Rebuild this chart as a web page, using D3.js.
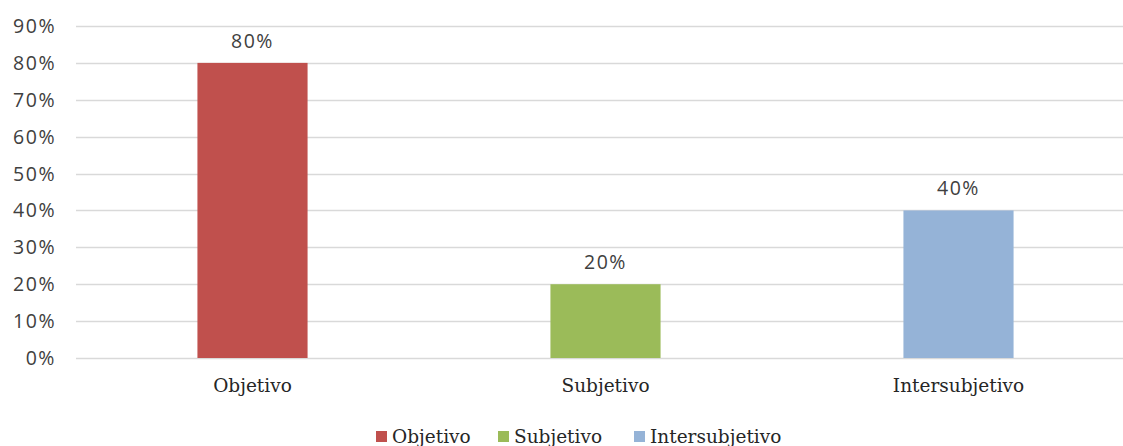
<!DOCTYPE html>
<html>
<head>
<meta charset="utf-8">
<script src="https://d3js.org/d3.v7.min.js"></script>
<style>
    body { margin: 0; background: #ffffff; }
    .tick-label { font-family: "Open Sans", sans-serif; font-size: 19.5px; letter-spacing: 1.5px; fill: #404040; }
    .value-label { font-family: "Open Sans", sans-serif; font-size: 19.5px; letter-spacing: 1.5px; fill: #404040; }
    .cat-label { font-family: "DejaVu Serif", serif; font-size: 18.5px; fill: #262626; }
    .legend-label { font-family: "DejaVu Serif", serif; font-size: 18.5px; fill: #262626; }
</style>
</head>
<body>
<svg id="chart" width="1123" height="446"></svg>
<script>
// Data
var categories = ["Objetivo", "Subjetivo", "Intersubjetivo"];
var values = [0.8, 0.2, 0.4];
var colors = ["#C0504D", "#9BBB59", "#95B3D7"];
var yTicks = [0, 0.1, 0.2, 0.3, 0.4, 0.5, 0.6, 0.7, 0.8, 0.9];

var svg = d3.select("#chart");

// Plot area
var plot = { left: 76, right: 1135, top: 26, bottom: 358 };

var xScale = d3.scaleBand()
    .domain(categories)
    .range([plot.left, plot.right])
    .padding(0);

var barWidth = xScale.bandwidth() * 0.312;

var yScale = d3.scaleLinear()
    .domain([0, 0.9])
    .range([plot.bottom, plot.top]);

var pct = d3.format(".0%");

// Horizontal gridlines
svg.append("g")
    .selectAll("line")
    .data(yTicks)
    .enter()
    .append("line")
        .attr("x1", plot.left)
        .attr("x2", plot.right)
        .attr("y1", d => Math.round(yScale(d)) + 0.5)
        .attr("y2", d => Math.round(yScale(d)) + 0.5)
        .attr("stroke", "#D9D9D9")
        .attr("stroke-width", 1.5);

// Y tick labels
svg.append("g")
    .selectAll("text")
    .data(yTicks)
    .enter()
    .append("text")
        .attr("class", "tick-label")
        .attr("x", 56)
        .attr("y", d => yScale(d))
        .attr("dy", "0.36em")
        .attr("text-anchor", "end")
        .text(d => pct(d));

// Bars
svg.append("g")
    .selectAll("rect")
    .data(categories)
    .enter()
    .append("rect")
        .attr("x", d => xScale(d) + xScale.bandwidth() / 2 - barWidth / 2)
        .attr("y", (d, i) => yScale(values[i]))
        .attr("width", barWidth)
        .attr("height", (d, i) => yScale(0) - yScale(values[i]))
        .attr("fill", (d, i) => colors[i]);

// Value labels
svg.append("g")
    .selectAll("text")
    .data(categories)
    .enter()
    .append("text")
        .attr("class", "value-label")
        .attr("x", d => xScale(d) + xScale.bandwidth() / 2)
        .attr("y", (d, i) => yScale(values[i]) - 15)
        .attr("text-anchor", "middle")
        .text((d, i) => pct(values[i]));

// Category labels
svg.append("g")
    .selectAll("text")
    .data(categories)
    .enter()
    .append("text")
        .attr("class", "cat-label")
        .attr("x", d => xScale(d) + xScale.bandwidth() / 2)
        .attr("y", plot.bottom + 34)
        .attr("text-anchor", "middle")
        .text(d => d);

// Legend
var legendX = [376, 498, 634];
var legend = svg.append("g").attr("class", "legend");

legend.selectAll("rect")
    .data(categories)
    .enter()
    .append("rect")
        .attr("x", (d, i) => legendX[i])
        .attr("y", 431)
        .attr("width", 11)
        .attr("height", 11)
        .attr("fill", (d, i) => colors[i]);

legend.selectAll("text")
    .data(categories)
    .enter()
    .append("text")
        .attr("class", "legend-label")
        .attr("x", (d, i) => legendX[i] + 16)
        .attr("y", 443)
        .text(d => d);
</script>
</body>
</html>
